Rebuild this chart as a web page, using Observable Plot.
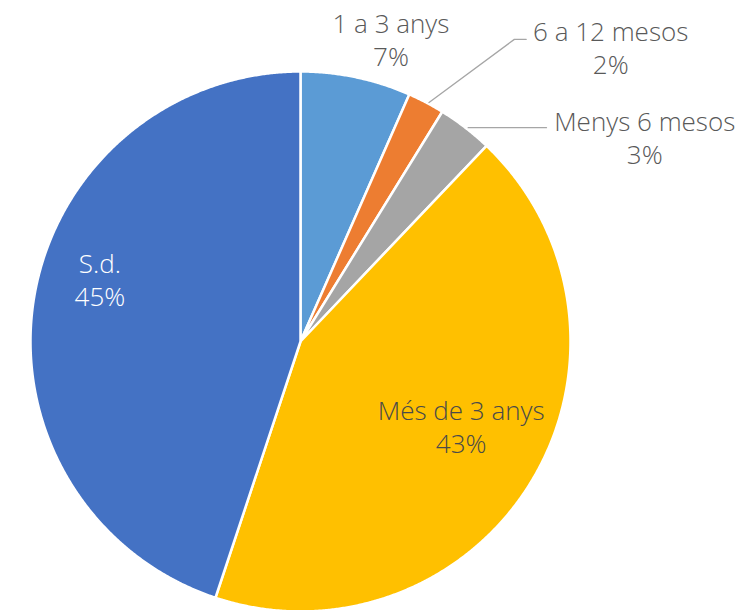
<!DOCTYPE html>
<html><head><meta charset="utf-8">
<script src="https://cdn.jsdelivr.net/npm/d3@7"></script>
<script src="https://cdn.jsdelivr.net/npm/@observablehq/plot@0.6"></script>
<style>body{margin:0;background:#fff;font-family:"Open Sans",sans-serif;}</style>
</head><body><div id="chart"></div>
<script>
// Data
const categories = ["1 a 3 anys", "6 a 12 mesos", "Menys 6 mesos", "Més de 3 anys", "S.d."];
const values = [6.6, 2.2, 3.3, 43.0, 44.9];
const percentLabels = ["7%", "2%", "3%", "43%", "45%"];
const colors = ["#5B9BD5", "#ED7D31", "#A5A5A5", "#FFC000", "#4472C4"];

// Layout (radius units, center = 0,0)
const W = 753, H = 610, R = 270, CX = 300, CY = 341;
const labelLayout = [
  {x: 0.335, y: 1.122, fill: "#595959"},
  {x: 1.149, y: 1.092, fill: "#595959"},
  {x: 1.275, y: 0.758, fill: "#595959"},
  {x: 0.595, y: -0.313, fill: "#4a4a4a"},
  {x: -0.743, y: 0.230, fill: "#FFFFFF"}
];
const leaders = [
  [{x: 0.476, y: 0.885}, {x: 0.792, y: 1.119}, {x: 0.836, y: 1.119}],
  [{x: 0.621, y: 0.792}, {x: 0.911, y: 0.792}]
];

const arcs = d3.pie().sort(null).value(d => d)(values);
const slices = arcs.map((a, i) => {
  const pts = [{x: 0, y: 0}];
  const n = Math.max(4, Math.ceil((a.endAngle - a.startAngle) / 0.005));
  for (let k = 0; k <= n; k++) {
    const t = a.startAngle + (a.endAngle - a.startAngle) * k / n;
    pts.push({x: Math.sin(t), y: Math.cos(t)});
  }
  pts.push({x: 0, y: 0});
  return pts;
});

const labels = categories.map((c, i) => ({
  text: c + "\n" + percentLabels[i], ...labelLayout[i]
}));

const marks = [];
slices.forEach((pts, i) => {
  marks.push(Plot.line(pts, {x: "x", y: "y", fill: colors[i], stroke: "white", strokeWidth: 2.5, strokeLinejoin: "round"}));
});
leaders.forEach(l => marks.push(Plot.line(l, {x: "x", y: "y", stroke: "#A6A6A6", strokeWidth: 1.3})));
marks.push(Plot.text(labels, {x: "x", y: "y", text: "text", fill: "fill", fontSize: 26, lineHeight: 1.27, fontWeight: 300}));

const chart = Plot.plot({
  width: W, height: H,
  margin: 0,
  x: {domain: [-CX / R, (W - CX) / R], axis: null},
  y: {domain: [-(H - CY) / R, CY / R], axis: null},
  style: {fontFamily: "'Open Sans', sans-serif", background: "white"},
  marks
});
document.getElementById("chart").appendChild(chart);
</script>
</body></html>
